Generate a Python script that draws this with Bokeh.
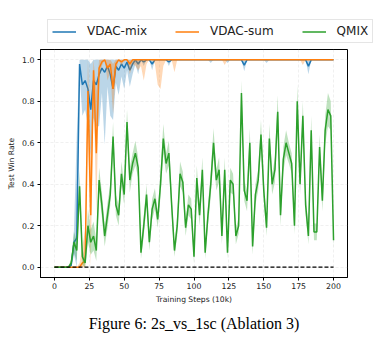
import numpy as np
from bokeh.plotting import figure
from bokeh.models import (Legend, LegendItem, FixedTicker, PrintfTickFormatter,
                          Title, Range1d)
from bokeh.embed import file_html
from bokeh.resources import INLINE

steps = list(range(0, 201, 2))

mix_mean = [0, 0, 0, 0, 0, 0, 0.01, 0.12, 0.14, 0.98,
            0.88, 0.9, 0.86, 0.76, 0.9, 0.88, 0.93, 0.96, 0.94, 0.97,
            0.93, 0.86, 0.97, 0.95, 0.98, 0.96, 0.99, 0.95, 0.98, 1.0,
            0.98, 1.0, 0.99, 1.0, 1.0, 0.98, 1.0, 1.0, 1.0, 1.0,
            1.0, 0.99, 1.0, 1.0, 1.0, 1.0, 1.0, 1.0, 1.0, 1.0,
            1.0, 1.0, 1.0, 1.0, 1.0, 1.0, 1.0, 1.0, 1.0, 1.0,
            1.0, 1.0, 1.0, 1.0, 1.0, 1.0, 1.0, 1.0, 0.975, 1.0,
            1.0, 1.0, 1.0, 1.0, 1.0, 1.0, 1.0, 1.0, 1.0, 1.0,
            1.0, 1.0, 1.0, 1.0, 1.0, 1.0, 1.0, 1.0, 1.0, 1.0,
            1.0, 0.97, 1.0, 1.0, 1.0, 1.0, 1.0, 1.0, 1.0, 1.0,
            1.0]
mix_std = [0, 0, 0, 0, 0, 0, 0.01, 0.06, 0.5, 0.05,
           0.15, 0.14, 0.18, 0.22, 0.18, 0.2, 0.25, 0.12, 0.35, 0.1,
           0.2, 0.15, 0.08, 0.12, 0.06, 0.1, 0.04, 0.08, 0.05, 0.02,
           0.05, 0.0, 0.02, 0.0, 0.0, 0.03, 0.0, 0.0, 0.0, 0.0,
           0.0, 0.02, 0.0, 0.0, 0.0, 0.0, 0.0, 0.0, 0.0, 0.0,
           0.0, 0.0, 0.0, 0.0, 0.0, 0.0, 0.015, 0.0, 0.0, 0.0,
           0.0, 0.0, 0.015, 0.0, 0.0, 0.0, 0.0, 0.0, 0.03, 0.0,
           0.0, 0.0, 0.0, 0.0, 0.0, 0.0, 0.015, 0.0, 0.0, 0.0,
           0.0, 0.0, 0.0, 0.0, 0.0, 0.0, 0.0, 0.0, 0.0, 0.0,
           0.0, 0.04, 0.0, 0.0, 0.0, 0.0, 0.0, 0.0, 0.0, 0.0,
           0.0]

sum_mean = [0, 0, 0, 0, 0, 0, 0, 0, 0, 0,
            0.02, 0.03, 0.85, 0.25, 0.95, 0.55, 0.96, 0.99, 1.0, 0.96,
            0.98, 0.86, 0.98, 1.0, 0.99, 1.0, 1.0, 0.98, 1.0, 1.0,
            1.0, 1.0, 1.0, 1.0, 1.0, 1.0, 1.0, 1.0, 1.0, 1.0,
            1.0, 1.0, 1.0, 1.0, 1.0, 1.0, 1.0, 1.0, 1.0, 1.0,
            1.0, 1.0, 1.0, 1.0, 1.0, 1.0, 1.0, 1.0, 1.0, 1.0,
            1.0, 1.0, 1.0, 1.0, 1.0, 1.0, 1.0, 1.0, 1.0, 1.0,
            1.0, 1.0, 1.0, 1.0, 1.0, 1.0, 1.0, 1.0, 1.0, 1.0,
            1.0, 1.0, 1.0, 1.0, 1.0, 1.0, 1.0, 1.0, 1.0, 1.0,
            1.0, 1.0, 1.0, 1.0, 1.0, 1.0, 1.0, 1.0, 1.0, 1.0,
            1.0]
sum_std = [0, 0, 0, 0, 0, 0, 0, 0, 0, 0.02,
           0.08, 0.15, 0.2, 0.3, 0.08, 0.3, 0.05, 0.02, 0.0, 0.06,
           0.04, 0.12, 0.04, 0.0, 0.02, 0.0, 0.0, 0.05, 0.02, 0.03,
           0.05, 0.03, 0.1, 0.02, 0.0, 0.0, 0.02, 0.12, 0.14, 0.03,
           0.0, 0.0, 0.0, 0.06, 0.0, 0.0, 0.0, 0.0, 0.0, 0.0,
           0.0, 0.0, 0.0, 0.0, 0.0, 0.0, 0.0, 0.0, 0.0, 0.0,
           0.0, 0.025, 0.0, 0.0, 0.0, 0.0, 0.0, 0.0, 0.0, 0.0,
           0.0, 0.0, 0.0, 0.0, 0.0, 0.0, 0.0, 0.0, 0.0, 0.0,
           0.0, 0.0, 0.0, 0.0, 0.0, 0.0, 0.0, 0.0, 0.0, 0.025,
           0.0, 0.0, 0.0, 0.0, 0.0, 0.0, 0.0, 0.0, 0.0, 0.0,
           0.0]

qmix_mean = [0, 0, 0, 0, 0, 0, 0.02, 0.12, 0.08, 0.39,
             0.05, 0.02, 0.2, 0.12, 0.15, 0.08, 0.42, 0.3, 0.15, 0.25,
             0.35, 0.63, 0.3, 0.25, 0.45, 0.35, 0.7, 0.42, 0.5, 0.55,
             0.48, 0.07, 0.2, 0.35, 0.12, 0.28, 0.33, 0.23, 0.4, 0.62,
             0.5, 0.55, 0.3, 0.08, 0.2, 0.45, 0.41, 0.19, 0.3, 0.28,
             0.05, 0.43, 0.25, 0.47, 0.07, 0.25, 0.4, 0.6, 0.42, 0.47,
             0.15, 0.47, 0.07, 0.42, 0.4, 0.15, 0.2, 0.84, 0.37, 0.32,
             0.6, 0.1, 0.35, 0.42, 0.64, 0.37, 0.19, 0.62, 0.4, 0.47,
             0.75, 0.25, 0.52, 0.6, 0.55, 0.5, 0.2, 0.8, 0.4, 0.73,
             0.3, 0.15, 0.66, 0.17, 0.17, 0.58, 0.32, 0.66, 0.76, 0.73,
             0.13]
qmix_std = [0, 0, 0, 0, 0, 0, 0.02, 0.05, 0.05, 0.08,
            0.04, 0.02, 0.08, 0.06, 0.07, 0.05, 0.06, 0.06, 0.05, 0.06,
            0.05, 0.07, 0.05, 0.05, 0.06, 0.05, 0.06, 0.06, 0.05, 0.06,
            0.05, 0.03, 0.05, 0.05, 0.04, 0.05, 0.05, 0.04, 0.06, 0.07,
            0.05, 0.06, 0.05, 0.03, 0.05, 0.06, 0.05, 0.04, 0.05, 0.05,
            0.03, 0.06, 0.05, 0.06, 0.03, 0.05, 0.06, 0.07, 0.05, 0.06,
            0.04, 0.06, 0.03, 0.06, 0.05, 0.04, 0.04, 0.06, 0.05, 0.05,
            0.07, 0.04, 0.05, 0.05, 0.07, 0.05, 0.04, 0.07, 0.05, 0.06,
            0.08, 0.05, 0.06, 0.06, 0.05, 0.05, 0.04, 0.08, 0.05, 0.07,
            0.05, 0.04, 0.07, 0.04, 0.04, 0.06, 0.05, 0.07, 0.08, 0.07,
            0.04]

x_ticks = [0, 25, 50, 75, 100, 125, 150, 175, 200]
y_ticks = [0.0, 0.2, 0.4, 0.6, 0.8, 1.0]

series = [("VDAC-mix", mix_mean, mix_std, "#1f77b4"),
          ("VDAC-sum", sum_mean, sum_std, "#ff7f0e"),
          ("QMIX", qmix_mean, qmix_std, "#2ca02c")]

FONT = "DejaVu Sans"

p = figure(frame_width=307, frame_height=228, output_backend="svg",
           toolbar_location=None, x_range=Range1d(-10, 210),
           y_range=Range1d(-0.05, 1.05),
           min_border_left=40, min_border_right=41, min_border_top=0,
           min_border_bottom=10)
p.background_fill_color = "white"
p.border_fill_color = "white"
p.outline_line_color = "black"
p.outline_line_width = 1
p.outline_line_alpha = 1

# legend strip above the plot (its own figure, full width)
lg = figure(frame_width=384, frame_height=49, output_backend="svg",
            toolbar_location=None, x_range=Range1d(0, 1), y_range=Range1d(0, 1),
            min_border=0, min_border_left=0, min_border_right=0,
            min_border_top=0, min_border_bottom=0,
            x_axis_type=None, y_axis_type=None)
lg.outline_line_color = None
lg.grid.visible = False
lg.background_fill_color = "white"
lg.border_fill_color = "white"

x = np.array(steps)
items = []
for name, mean, std, color in series:
    m = np.array(mean, dtype=float)
    s = np.array(std, dtype=float)
    lo = np.clip(m - s, 0, 1)
    hi = np.clip(m + s, 0, 1)
    p.varea(x=x, y1=lo, y2=hi, fill_color=color, fill_alpha=0.3)
    p.line(x=x, y=m, line_color=color, line_width=1.5)
    # legend key renderer, kept outside the visible range of the strip
    key = lg.line(x=[5, 6], y=[5, 5], line_color=color, line_width=1.5)
    items.append(LegendItem(label=name, renderers=[key]))

p.line(x=[steps[0], steps[-1]], y=[0, 0], line_color="black",
       line_width=1.2, line_dash="4 2")

for ax in (p.xaxis, p.yaxis):
    ax.axis_line_color = "black"
    ax.major_tick_line_color = "black"
    ax.major_tick_out = 3
    ax.major_tick_in = 0
    ax.minor_tick_line_color = None
    ax.major_label_text_font = FONT
    ax.major_label_text_font_size = "7.8px"
    ax.major_label_text_color = "#222222"
    ax.axis_label_text_font = FONT
    ax.axis_label_text_font_size = "7.6px"
    ax.axis_label_text_font_style = "normal"
    ax.axis_label_text_color = "#222222"
    ax.major_label_standoff = 3
    ax.axis_label_standoff = 3

p.xaxis.major_label_standoff = 2
p.xaxis.ticker = FixedTicker(ticks=x_ticks)
p.yaxis.ticker = FixedTicker(ticks=y_ticks)
p.yaxis.formatter = PrintfTickFormatter(format="%.1f")
p.xaxis.axis_label = "Training Steps (10k)"
p.yaxis.axis_label = "Test Win Rate"

p.grid.grid_line_color = "#cccccc"
p.grid.grid_line_alpha = 0.5
p.grid.grid_line_dash = "3 2"
p.grid.grid_line_width = 0.6
p.xgrid.ticker = FixedTicker(ticks=x_ticks)
p.ygrid.ticker = FixedTicker(ticks=y_ticks)

legend = Legend(items=items, orientation="horizontal", location=(47, 6),
                label_text_font=FONT, label_text_font_size="12px",
                label_text_color="#222222",
                glyph_width=24, glyph_height=13, label_standoff=11,
                spacing=28, padding=4, margin=0,
                border_line_color="#cccccc", border_line_width=1,
                background_fill_color="white", background_fill_alpha=1)
lg.add_layout(legend)

caption = Title(text="Figure 6: 2s_vs_1sc (Ablation 3)", align="center",
                text_font="Liberation Serif", text_font_size="16px",
                text_font_style="normal", text_color="black", offset=-4,
                standoff=12)
p.add_layout(caption, "below")

open("out.html", "w").write(file_html([lg, p], INLINE))
